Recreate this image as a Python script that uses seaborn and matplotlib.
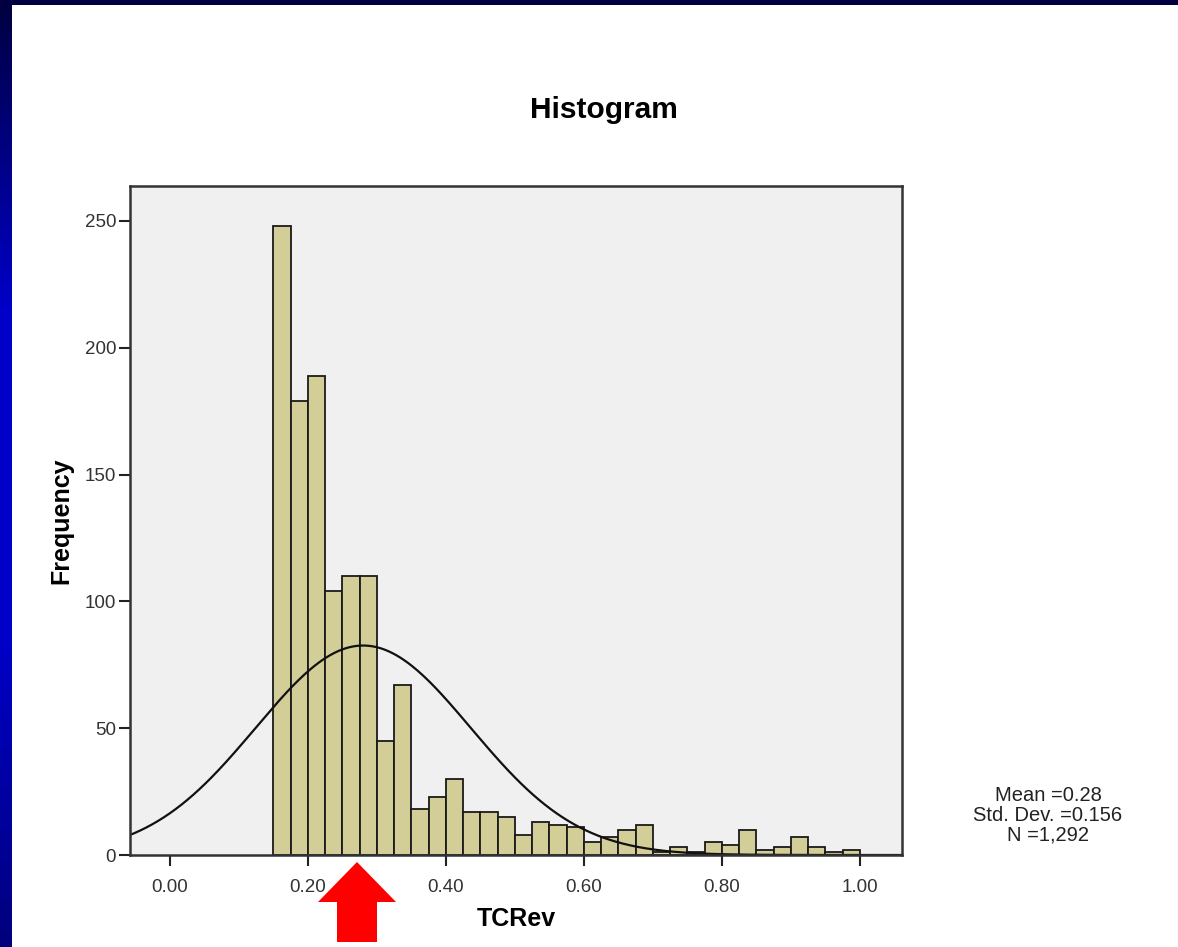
import numpy as np
import pandas as pd
import matplotlib
matplotlib.use("Agg")
import matplotlib.pyplot as plt
import seaborn as sns
from matplotlib.patches import Polygon

bin_start = 0.15
bin_width = 0.025
counts = [248, 179, 189, 104, 110, 110, 45, 67, 18, 23, 30, 17, 17, 15, 8, 13, 12,
          11, 5, 7, 10, 12, 1, 3, 1, 5, 4, 10, 2, 3, 7, 3, 1, 2]
mean = 0.28
std = 0.156
n_total = 1292
x_ticks = [0.0, 0.2, 0.4, 0.6, 0.8, 1.0]
y_ticks = [0, 50, 100, 150, 200, 250]

edges = bin_start + bin_width * np.arange(len(counts) + 1)
centers = (edges[:-1] + edges[1:]) / 2
df = pd.DataFrame({'TCRev': centers, 'count': counts})

sns.set_style('white')
plt.rcParams['font.family'] = ['Liberation Sans', 'DejaVu Sans']
plt.rcParams['text.color'] = 'black'
plt.rcParams['axes.labelcolor'] = 'black'

W, H = 1178, 947
fig = plt.figure(figsize=(W / 100, H / 100), dpi=100)
fig.patch.set_facecolor('white')

# Marco azul de la diapositiva (izquierda y arriba)
grad = np.concatenate([np.linspace(0, 1, 40), np.ones(40), np.linspace(1, 0.45, 40)])
cmap = matplotlib.colors.LinearSegmentedColormap.from_list('slide', ['#000040', '#0000c8'])
ax_l = fig.add_axes([0, 0, 12 / W, 1])
ax_l.imshow(grad[:, None], aspect='auto', cmap=cmap)
ax_l.axis('off')
ax_t = fig.add_axes([0, 1 - 5 / H, 1, 5 / H])
ax_t.set_facecolor('#000040')
ax_t.set_xticks([]); ax_t.set_yticks([])
for s in ax_t.spines.values():
    s.set_visible(False)

ax = fig.add_axes([130 / W, 1 - 855 / H, 772 / W, 669 / H])
ax.set_facecolor('#f0f0f0')

sns.histplot(data=df, x='TCRev', weights='count', binwidth=bin_width,
             binrange=(edges[0], edges[-1]), ax=ax,
             color='#d3ce97', edgecolor='#1a1a1a', linewidth=1.3, alpha=1)

# Curva normal
xs = np.linspace(-0.06, 1.07, 400)
ys = n_total * bin_width / (std * np.sqrt(2 * np.pi)) * np.exp(-0.5 * ((xs - mean) / std) ** 2)
ax.plot(xs, ys, color='#111111', lw=1.6)

ax.set_xlim(-0.058, 1.061)
ax.set_ylim(0, 263.8)
ax.set_xticks(x_ticks)
ax.set_xticklabels([f'{v:.2f}' for v in x_ticks])
ax.set_yticks(y_ticks)
ax.tick_params(axis='both', bottom=True, left=True, direction='out', length=8, width=1.5,
               color='#222222', labelsize=13.5, labelcolor='#333333', pad=2)
ax.tick_params(axis='x', pad=9)
for s in ax.spines.values():
    s.set_visible(True)
    s.set_color('#333333')
    s.set_linewidth(1.8)

ax.set_xlabel('TCRev', fontsize=18, fontweight='bold', labelpad=8)
ax.set_ylabel('Frequency', fontsize=18, fontweight='bold', labelpad=8)
fig.text(604 / W, 1 - 110 / H, 'Histogram', fontsize=21.5, fontweight='bold',
         ha='center', va='center')

fig.text(1048 / W, 1 - 815 / H, f'Mean ={mean}\nStd. Dev. ={std}\nN ={n_total:,}',
         fontsize=14.5, ha='center', va='center', color='#222222', linespacing=1.05)

# Flecha roja
arrow = [(357, 862), (396, 902), (377, 902), (377, 942), (337, 942), (337, 902), (318, 902)]
arrow = [(x / W, 1 - y / H) for x, y in arrow]
fig.patches.append(Polygon(arrow, closed=True, transform=fig.transFigure,
                           facecolor='#ff0000', edgecolor='none', zorder=10))

fig.savefig('out.png', dpi=100)
